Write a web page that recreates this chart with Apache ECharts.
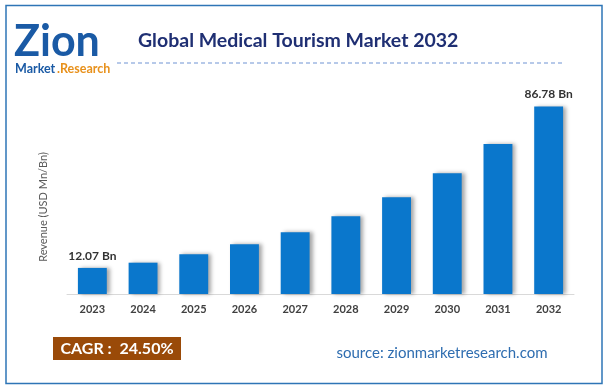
<!DOCTYPE html>
<html><head><meta charset="utf-8">
<script src="https://cdn.jsdelivr.net/npm/echarts@6/dist/echarts.min.js"></script>
<style>html,body{margin:0;padding:0;background:#fff}#c{width:607px;height:390px}</style>
</head><body><div id="c"></div>
<script>
const categories = ['2023','2024','2025','2026','2027','2028','2029','2030','2031','2032'];
const revenue = [12.07, 14.5, 18.4, 23.0, 28.6, 36.0, 44.8, 55.9, 69.5, 86.78];
const labelled = {0: '12.07 Bn', 9: '86.78 Bn'};
const titleText = 'Global Medical Tourism Market 2032';
const yName = 'Revenue (USD Mn/Bn)';
const cagrText = 'CAGR :  24.50%';
const sourceText = 'source: zionmarketresearch.com';

const FONT = 'Lato, "Noto Sans", sans-serif';
const chart = echarts.init(document.getElementById('c'), null, {renderer: 'canvas'});
const seriesData = revenue.map((v, i) => {
  const item = {value: v};
  if (labelled[i]) {
    item.label = {show: true, position: 'top', formatter: labelled[i], distance: 6,
      color: '#333', fontWeight: 'bold', fontSize: 12, fontFamily: FONT};
  }
  return item;
});
chart.setOption({
  animation: false,
  title: {
    text: titleText, left: 133, top: 26,
    textStyle: {color: '#1f2f73', fontSize: 19.5, fontWeight: 'bold', fontFamily: FONT}
  },
  grid: {left: 67, right: 33, top: 78, bottom: 96},
  xAxis: {
    type: 'category', data: categories,
    axisLine: {lineStyle: {color: '#d9d9d9', width: 1}},
    axisTick: {show: false},
    axisLabel: {color: '#404040', fontWeight: 'bold', fontSize: 11, fontFamily: FONT, margin: 10}
  },
  yAxis: {
    type: 'value', min: 0, max: 100,
    axisLine: {show: false}, axisTick: {show: false},
    axisLabel: {show: false}, splitLine: {show: false}
  },
  series: [{
    type: 'bar', data: seriesData, barWidth: '57%',
    itemStyle: {color: '#0a77cc', shadowColor: 'rgba(0,0,0,0.35)', shadowBlur: 4, shadowOffsetX: 3, shadowOffsetY: 0}
  }],
  graphic: [
    {type: 'rect', shape: {x: 6, y: 5.5, width: 596, height: 378}, style: {fill: 'none', stroke: '#2e75b6', lineWidth: 1.5}, silent: true},
    {type: 'line', shape: {x1: 117, y1: 63, x2: 563, y2: 63}, style: {stroke: '#6f93d3', lineWidth: 1, lineDash: [4, 3]}},
    {type: 'text', left: 14, top: 21, style: {text: 'Zion', fill: '#1a5aa5', font: 'bold 43px ' + FONT}},
    {type: 'text', left: 15, top: 62, style: {text: 'Market', fill: '#1a5aa5', font: 'bold 12.5px ' + FONT}},
    {type: 'text', left: 57, top: 62, style: {text: '.Research', fill: '#e8911c', font: 'bold 12.5px ' + FONT}},
    {type: 'text', x: 43, y: 207, rotation: Math.PI / 2,
      style: {text: yName, fill: '#595959', font: '11px ' + FONT, align: 'center', verticalAlign: 'middle'}},
    {type: 'rect', shape: {x: 53, y: 337, width: 128, height: 23}, style: {fill: '#9a4a08'}},
    {type: 'text', x: 117, y: 348.5, style: {text: cagrText, fill: '#fff', font: 'bold 16px ' + FONT, align: 'center', verticalAlign: 'middle'}},
    {type: 'text', x: 442, y: 353, style: {text: sourceText, fill: '#2e6db0', font: '15px ' + FONT, align: 'center', verticalAlign: 'middle'}}
  ]
});
</script></body></html>
